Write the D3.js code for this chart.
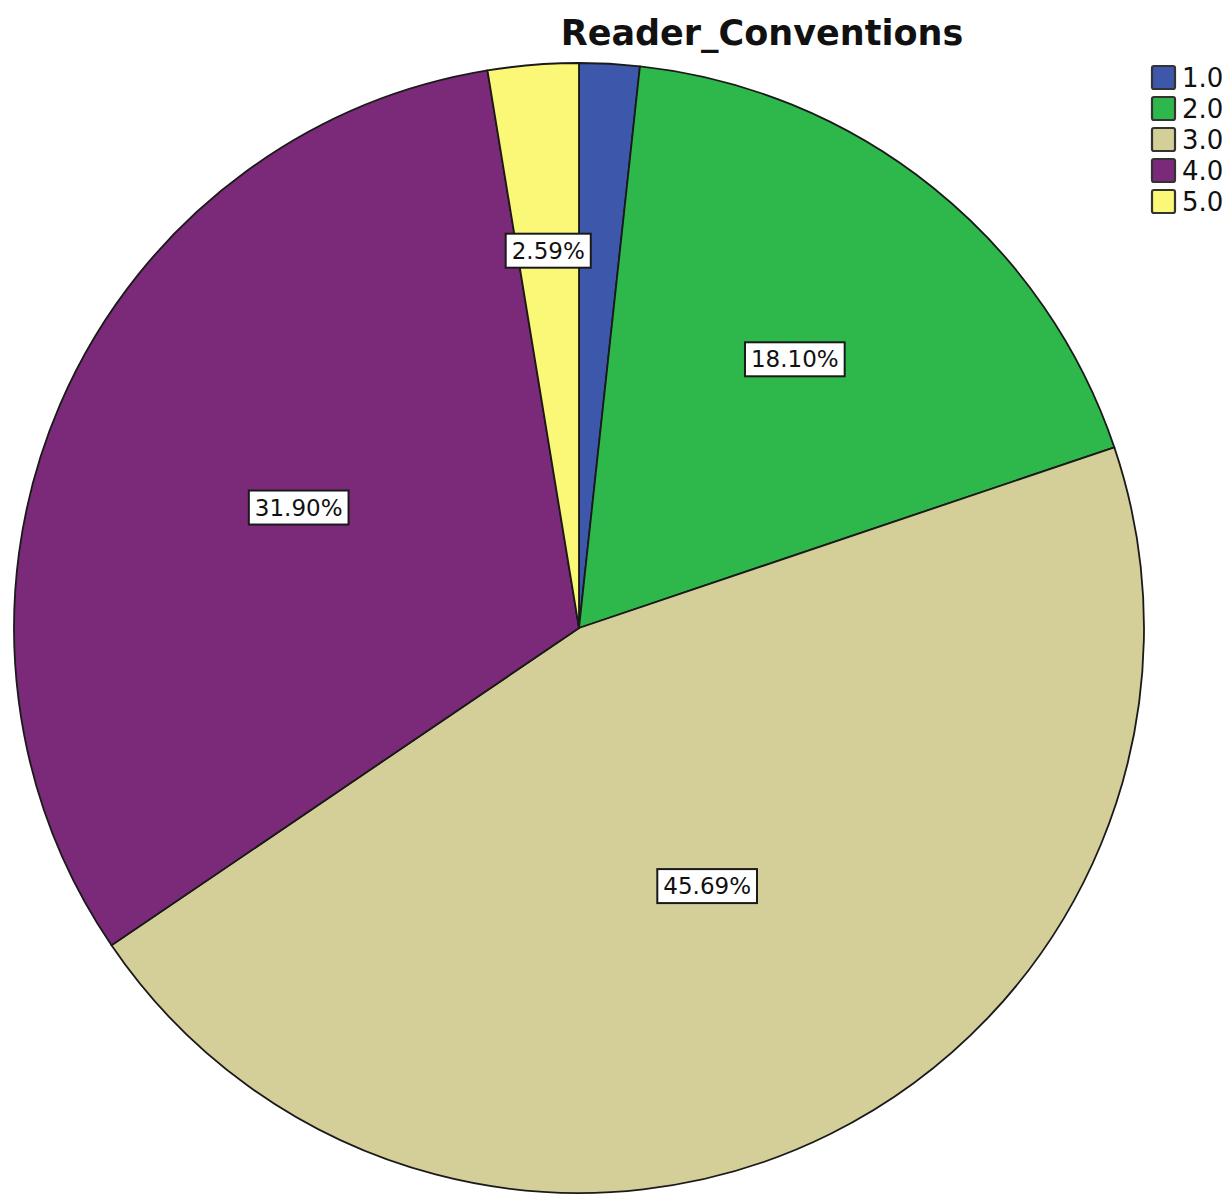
<!DOCTYPE html>
<html>
<head>
<meta charset="utf-8">
<script src="https://cdn.jsdelivr.net/npm/d3@7"></script>
<style>
  html, body { margin: 0; padding: 0; background: #fff; }
  svg { display: block; }
</style>
</head>
<body>
<svg id="chart" width="1228" height="1195"></svg>
<script>
// Reader_Conventions: share of responses per rating
const categories = ["1.0", "2.0", "3.0", "4.0", "5.0"];
const percents = [1.72, 18.10, 45.69, 31.90, 2.59];
const colors = ["#3d58ab", "#2eb84b", "#d4ce98", "#7b2979", "#fbf877"];
const chartTitle = "Reader_Conventions";

// layout
const W = 1228, H = 1195;
const cx = 579, cy = 628, R = 565;
const labelRadiusFrac = [0.66, 0.61, 0.51, 0.54, 0.67];
const minLabelPct = 2;

const svg = d3.select("#chart");

svg.append("text")
  .attr("x", 762).attr("y", 45)
  .attr("text-anchor", "middle")
  .attr("font-family", "DejaVu Sans, sans-serif")
  .attr("font-weight", "bold")
  .attr("font-size", 35)
  .attr("fill", "#111")
  .text(chartTitle);

const data = categories.map((c, i) => ({ cat: c, value: percents[i], i }));

const pie = d3.pie().value(d => d.value).sort(null);
const arcs = pie(data);
const arc = d3.arc().innerRadius(0).outerRadius(R);

const g = svg.append("g").attr("transform", `translate(${cx},${cy})`);

g.selectAll("path.slice")
  .data(arcs)
  .join("path")
  .attr("class", "slice")
  .attr("d", arc)
  .attr("fill", d => colors[d.data.i])
  .attr("stroke", "#1a1a1a")
  .attr("stroke-width", 1.8)
  .attr("stroke-linejoin", "round");

// value labels in white boxes
const labelFont = 23;
const lab = g.selectAll("g.lab")
  .data(arcs.filter(d => d.data.value >= minLabelPct))
  .join("g")
  .attr("class", "lab")
  .attr("transform", d => {
    const a = (d.startAngle + d.endAngle) / 2;
    const r = R * labelRadiusFrac[d.data.i];
    return `translate(${r * Math.sin(a)},${-r * Math.cos(a)})`;
  });

lab.each(function(d) {
  const sel = d3.select(this);
  const t = sel.append("text")
    .attr("text-anchor", "middle")
    .attr("dominant-baseline", "central")
    .attr("font-family", "DejaVu Sans, sans-serif")
    .attr("font-size", labelFont)
    .attr("fill", "#111")
    .text(d3.format(".2f")(d.data.value) + "%");
  const bb = t.node().getBBox();
  const padX = 6, h = 34;
  sel.insert("rect", "text")
    .attr("x", -bb.width / 2 - padX)
    .attr("y", -h / 2)
    .attr("width", bb.width + 2 * padX)
    .attr("height", h)
    .attr("fill", "#fff")
    .attr("stroke", "#1a1a1a")
    .attr("stroke-width", 2);
});

// legend
const leg = svg.append("g").attr("transform", "translate(1151,65)");
const row = leg.selectAll("g")
  .data(data)
  .join("g")
  .attr("transform", (d, i) => `translate(0,${i * 31})`);
row.append("rect")
  .attr("x", 1).attr("y", 1)
  .attr("width", 23).attr("height", 23)
  .attr("rx", 2)
  .attr("fill", d => colors[d.i])
  .attr("stroke", "#333")
  .attr("stroke-width", 2.2);
row.append("text")
  .attr("x", 31).attr("y", 22)
  .attr("font-family", "DejaVu Sans, sans-serif")
  .attr("font-size", 26)
  .attr("fill", "#111")
  .text(d => d.cat);
</script>
</body>
</html>
